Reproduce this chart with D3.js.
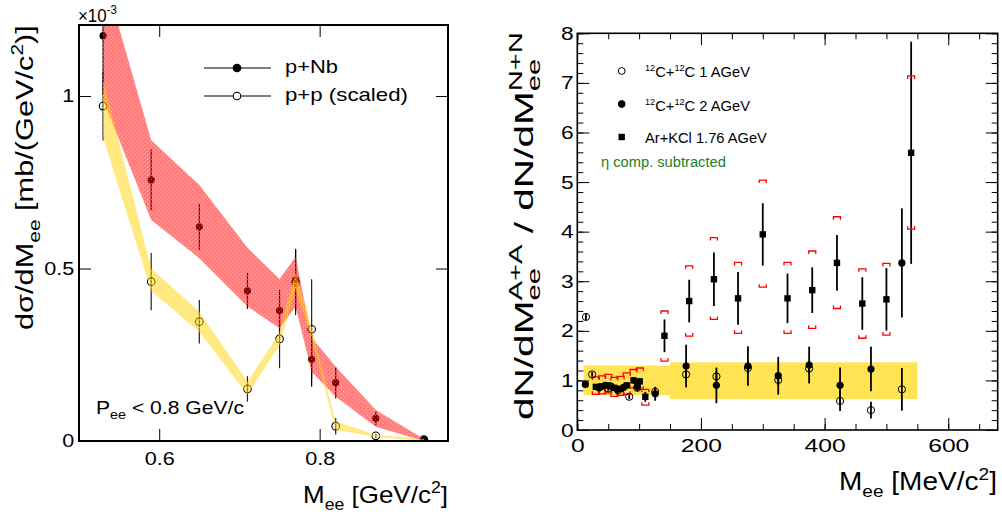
<!DOCTYPE html>
<html>
<head>
<meta charset="utf-8">
<script src="https://cdn.jsdelivr.net/npm/d3@7"></script>
<style>
body { margin: 0; background: #fff; }
svg { display: block; font-family: "Liberation Sans", Arial, Helvetica, sans-serif; }
</style>
</head>
<body>
<svg id="chart" width="1002" height="518"></svg>
<script>
// ---- left panel: p+Nb vs p+p (scaled), values in 1e-3 mb/(GeV/c2)
var massL   = [0.53, 0.59, 0.65, 0.71, 0.75, 0.77, 0.79, 0.82, 0.87, 0.93];
var pNb     = [1.175, 0.757, 0.621, 0.435, 0.378, 0.467, 0.237, 0.169, 0.066, 0.004];
var pNbErr  = [0.17, 0.088, 0.067, 0.052, 0.06, 0.09, 0.08, 0.045, 0.02, 0.005];
var pp      = [0.971, 0.462, 0.346, 0.151, 0.296, 0.46, 0.324, 0.043, 0.015, 0.004];
var ppErr   = [0.1, 0.083, 0.063, 0.037, 0.085, 0.095, 0.145, 0.024, 0.006, 0.004];
// model bands
var pNbBandHi = [1.36, 0.872, 0.742, 0.56, 0.47, 0.534, 0.30, 0.215, 0.09, 0.006];
var pNbBandLo = [0.99, 0.641, 0.53, 0.39, 0.327, 0.39, 0.20, 0.128, 0.041, 0.0];
var ppBandHi  = [1.046, 0.50, 0.375, 0.172, 0.313, 0.49, 0.33, 0.056, 0.018, 0.005];
var ppBandLo  = [0.88, 0.435, 0.317, 0.135, 0.278, 0.44, 0.30, 0.032, 0.012, 0.0];
var leftXTicks = [0.6, 0.8];
var leftYTicks = [0, 0.5, 1];

// ---- right panel: A+A / N+N ratio
var cc1Mass  = [14, 24, 36, 50, 66, 84, 97, 126, 176, 225, 276, 325, 375, 425, 475, 525];
var cc1Ratio = [2.28, 1.12, 0.86, 0.84, 0.8, 0.67, 0.85, 0.77, 1.12, 1.08, 1.25, 1.01, 1.24, 0.585, 0.40, 0.82];
var cc1Err   = [0.06, 0.05, 0.05, 0.05, 0.05, 0.05, 0.06, 0.08, 0.1, 0.1, 0.1, 0.1, 0.1, 0.2, 0.17, 0.43];

var cc2Mass  = [13, 35, 45, 55, 65, 75, 97, 126, 176, 225, 276, 325, 375, 425, 475, 525];
var cc2Ratio = [0.92, 0.85, 0.9, 0.88, 0.82, 0.86, 0.88, 0.73, 1.29, 0.90, 1.29, 1.095, 1.31, 0.90, 1.23, 3.37];
var cc2Err   = [0.05, 0.06, 0.06, 0.06, 0.07, 0.07, 0.09, 0.14, 0.43, 0.36, 0.4, 0.38, 0.37, 0.36, 0.45, 1.1];

var arMass  = [30, 40, 50, 60, 70, 80, 91, 101, 110, 141, 181, 221, 260, 300, 340, 380, 420, 461, 500, 540];
var arRatio = [0.87, 0.88, 0.9, 0.85, 0.83, 0.9, 1.0, 0.98, 0.67, 1.9, 2.6, 3.04, 2.655, 3.945, 2.655, 2.82, 3.37, 2.55, 2.635, 5.59];
var arErr   = [0.05, 0.05, 0.05, 0.05, 0.06, 0.06, 0.07, 0.07, 0.1, 0.33, 0.43, 0.54, 0.53, 0.63, 0.5, 0.46, 0.56, 0.53, 0.63, 2.24];
var arSysHi = [1.07, 1.09, 1.12, 1.06, 1.08, 1.15, 1.22, 1.25, 0.82, 2.40, 3.31, 3.88, 3.38, 5.04, 3.38, 3.61, 4.30, 3.25, 3.36, 7.14];
var arSysLo = [0.72, 0.73, 0.75, 0.68, 0.70, 0.72, 0.85, 0.82, 0.50, 1.39, 1.895, 2.23, 1.95, 2.88, 1.95, 2.05, 2.45, 1.85, 1.915, 4.05];

// reference (N+N) uncertainty boxes
var refBandStart = [10, 150];
var refBandEnd   = [150, 550];
var refBandLo    = [0.705, 0.625];
var refBandHi    = [1.30, 1.365];

var rightXTicks = [0, 200, 400, 600];
var rightYTicks = [0, 1, 2, 3, 4, 5, 6, 7, 8];

var svg = d3.select("#chart");
var defs = svg.append("defs");

function makePattern(id, color, op) {
    var p = defs.append("pattern").attr("id", id).attr("width", 4).attr("height", 4)
        .attr("patternUnits", "userSpaceOnUse");
    p.append("rect").attr("width", 4).attr("height", 4).attr("fill", color).attr("fill-opacity", op);
    p.append("rect").attr("x", 1).attr("y", 1).attr("width", 1).attr("height", 1).attr("fill", "#fff").attr("fill-opacity", 0.35);
    p.append("rect").attr("x", 3).attr("y", 3).attr("width", 1).attr("height", 1).attr("fill", "#fff").attr("fill-opacity", 0.35);
}
makePattern("redFill", "#ff0000", 0.5);
makePattern("yelFill", "#ffd200", 0.5);
makePattern("yelFillR", "#ffd400", 0.68);

// text with sub/superscripts, stretched horizontally to the measured width
function addLabel(parent, parts, o) {
    var t = parent.append("text").attr("font-size", o.size).attr("fill", o.color || "#000");
    var shift = 0, prev = null;
    parts.forEach(function(p) {
        var kind = p[1];
        var target = (kind == "sub") ? o.size * 0.28 : (kind == "sup" || kind == "supback") ? -o.size * 0.42 : 0;
        var ts = t.append("tspan").text(p[0]).attr("dy", target - shift);
        if (kind) ts.attr("font-size", o.size * (o.small || 0.68));
        if (kind == "supback" && prev) ts.attr("dx", -prev.node().getComputedTextLength());
        shift = target;
        prev = ts;
    });
    var w = t.node().getBBox().width;
    var s = o.width / w;
    if (o.rotate) {
        t.attr("transform", "translate(" + o.x + "," + (o.top + o.width) + ") rotate(-90) scale(" + s + ",1)");
    } else {
        t.attr("transform", "translate(" + o.x + "," + o.y + ") scale(" + s + ",1)");
    }
    return t;
}

var plain = function(d) { return String(d); };

// ================= LEFT PANEL =================
var xL = d3.scaleLinear().domain([0.5, 0.96]).range([79, 448]);
var yL = d3.scaleLinear().domain([0, 1.206]).range([441, 25]);

defs.append("clipPath").attr("id", "clipL").append("rect")
    .attr("x", 79).attr("y", 25).attr("width", 369).attr("height", 416);

var gL = svg.append("g").attr("clip-path", "url(#clipL)");

var leftRows = massL.map(function(m, i) {
    return {m: m, nb: pNb[i], nbE: pNbErr[i], pp: pp[i], ppE: ppErr[i],
            nbHi: pNbBandHi[i], nbLo: pNbBandLo[i], ppHi: ppBandHi[i], ppLo: ppBandLo[i]};
});

// points first, bands drawn over them (semi transparent like the original)
gL.selectAll(".ppErr").data(leftRows).enter().append("line")
    .attr("x1", function(d) { return xL(d.m); }).attr("x2", function(d) { return xL(d.m); })
    .attr("y1", function(d) { return yL(d.pp - d.ppE); }).attr("y2", function(d) { return yL(d.pp + d.ppE); })
    .attr("stroke", "#222").attr("stroke-width", 1.2);
gL.selectAll(".nbErr").data(leftRows).enter().append("line")
    .attr("x1", function(d) { return xL(d.m); }).attr("x2", function(d) { return xL(d.m); })
    .attr("y1", function(d) { return yL(d.nb - d.nbE); }).attr("y2", function(d) { return yL(d.nb + d.nbE); })
    .attr("stroke", "#000").attr("stroke-width", 1.2);
gL.selectAll(".nbPt").data(leftRows).enter().append("circle")
    .attr("cx", function(d) { return xL(d.m); }).attr("cy", function(d) { return yL(d.nb); })
    .attr("r", 3.6).attr("fill", "#000");
gL.selectAll(".ppPt").data(leftRows).enter().append("circle")
    .attr("cx", function(d) { return xL(d.m); }).attr("cy", function(d) { return yL(d.pp); })
    .attr("r", 3.8).attr("fill", "none").attr("stroke", "#000").attr("stroke-width", 1.1);

var nbArea = d3.area().x(function(d) { return xL(d.m); })
    .y0(function(d) { return yL(d.nbLo); }).y1(function(d) { return yL(d.nbHi); });
var ppArea = d3.area().x(function(d) { return xL(d.m); })
    .y0(function(d) { return yL(d.ppLo); }).y1(function(d) { return yL(d.ppHi); });
gL.append("path").datum(leftRows).attr("d", nbArea).attr("fill", "url(#redFill)");
gL.append("path").datum(leftRows).attr("d", ppArea).attr("fill", "url(#yelFill)");

// axes
function styleAxis(g, size, sx) {
    g.select(".domain").remove();
    g.selectAll("line").attr("stroke", "#000");
    g.attr("font-size", size).attr("font-family", null);
    g.selectAll("text").attr("fill", "#000").attr("transform", "scale(" + sx + ",1)");
}
var axL = [
    svg.append("g").attr("transform", "translate(0,441)")
        .call(d3.axisBottom(xL).tickValues(leftXTicks).tickFormat(plain).tickSizeInner(-12).tickSizeOuter(0).tickPadding(11)),
    svg.append("g").attr("transform", "translate(0,25)")
        .call(d3.axisTop(xL).tickValues(leftXTicks).tickSizeInner(-12).tickSizeOuter(0).tickFormat("")),
    svg.append("g").attr("transform", "translate(79,0)")
        .call(d3.axisLeft(yL).tickValues(leftYTicks).tickFormat(plain).tickSizeInner(-12).tickSizeOuter(0).tickPadding(4)),
    svg.append("g").attr("transform", "translate(448,0)")
        .call(d3.axisRight(yL).tickValues(leftYTicks).tickSizeInner(-12).tickSizeOuter(0).tickFormat(""))
];
axL.forEach(function(g) { styleAxis(g, 18, 1.2); });

svg.append("rect").attr("x", 79).attr("y", 25).attr("width", 369).attr("height", 416)
    .attr("fill", "none").attr("stroke", "#000").attr("stroke-width", 2);

addLabel(svg, [["\u00d710", ""], ["-3", "sup"]], {size: 18, x: 78, y: 22, width: 39});
addLabel(svg, [["d\u03c3/dM", ""], ["ee", "sub"], [" [mb/(GeV/c", ""], ["2", "sup"], [")]", ""]],
    {size: 24, x: 33, top: 25, width: 305, rotate: true});
addLabel(svg, [["M", ""], ["ee", "sub"], [" [GeV/c", ""], ["2", "sup"], ["]", ""]],
    {size: 24, x: 303, y: 503, width: 145});
addLabel(svg, [["P", ""], ["ee", "sub"], [" < 0.8 GeV/c", ""]], {size: 19, x: 96, y: 414, width: 148});

// legend
var legL = [{name: "p+Nb", filled: true, y: 68}, {name: "p+p (scaled)", filled: false, y: 96}];
legL.forEach(function(d) {
    svg.append("line").attr("x1", 204).attr("x2", 271).attr("y1", d.y).attr("y2", d.y)
        .attr("stroke", "#000").attr("stroke-width", 1);
    svg.append("circle").attr("cx", 237).attr("cy", d.y).attr("r", 3.8)
        .attr("fill", d.filled ? "#000" : "#fff").attr("stroke", "#000").attr("stroke-width", 1.1);
});
addLabel(svg, [["p+Nb", ""]], {size: 18, x: 285, y: 73, width: 53});
addLabel(svg, [["p+p (scaled)", ""]], {size: 18, x: 285, y: 101, width: 123});

// ================= RIGHT PANEL =================
var xR = d3.scaleLinear().domain([0, 680]).range([577.3, 997.7]);
var yR = d3.scaleLinear().domain([0, 8]).range([430, 33.3]);
var gR = svg.append("g");

refBandStart.forEach(function(s, i) {
    gR.append("rect").attr("x", xR(s)).attr("y", yR(refBandHi[i]))
        .attr("width", xR(refBandEnd[i]) - xR(s)).attr("height", yR(refBandLo[i]) - yR(refBandHi[i]))
        .attr("fill", "url(#yelFillR)");
});

function errBars(g, xs, ys, es, w) {
    g.selectAll(null).data(xs).enter().append("line")
        .attr("x1", function(d) { return xR(d); }).attr("x2", function(d) { return xR(d); })
        .attr("y1", function(d, i) { return yR(ys[i] - es[i]); })
        .attr("y2", function(d, i) { return yR(ys[i] + es[i]); })
        .attr("stroke", "#000").attr("stroke-width", w);
}
errBars(gR, cc1Mass, cc1Ratio, cc1Err, 1.8);
errBars(gR, cc2Mass, cc2Ratio, cc2Err, 1.8);
errBars(gR, arMass, arRatio, arErr, 1.8);

// systematic brackets for Ar+KCl
gR.selectAll(".sysHi").data(arMass).enter().append("path")
    .attr("d", function(d, i) {
        var x = xR(d), y = yR(arSysHi[i]);
        return "M" + (x - 3.5) + "," + (y + 3) + "V" + y + "H" + (x + 3.5) + "V" + (y + 3);
    })
    .attr("fill", "none").attr("stroke", "#ff0000").attr("stroke-width", 1.3);
gR.selectAll(".sysLo").data(arMass).enter().append("path")
    .attr("d", function(d, i) {
        var x = xR(d), y = yR(arSysLo[i]);
        return "M" + (x - 3.5) + "," + (y - 3) + "V" + y + "H" + (x + 3.5) + "V" + (y - 3);
    })
    .attr("fill", "none").attr("stroke", "#ff0000").attr("stroke-width", 1.3);

gR.selectAll(".arPt").data(arMass).enter().append("rect")
    .attr("x", function(d) { return xR(d) - 3.2; })
    .attr("y", function(d, i) { return yR(arRatio[i]) - 3.2; })
    .attr("width", 6.4).attr("height", 6.4).attr("fill", "#000");
gR.selectAll(".cc2Pt").data(cc2Mass).enter().append("circle")
    .attr("cx", function(d) { return xR(d); })
    .attr("cy", function(d, i) { return yR(cc2Ratio[i]); })
    .attr("r", 3.6).attr("fill", "#000");
gR.selectAll(".cc1Pt").data(cc1Mass).enter().append("circle")
    .attr("cx", function(d) { return xR(d); })
    .attr("cy", function(d, i) { return yR(cc1Ratio[i]); })
    .attr("r", 3.6).attr("fill", "none").attr("stroke", "#000").attr("stroke-width", 1);

var axR = [
    svg.append("g").attr("transform", "translate(0,430)")
        .call(d3.axisBottom(xR).tickValues(d3.range(0, 681, 50)).tickSizeInner(-6).tickSizeOuter(0).tickFormat("")),
    svg.append("g").attr("transform", "translate(0,430)")
        .call(d3.axisBottom(xR).tickValues(rightXTicks).tickFormat(plain).tickSizeInner(-12).tickSizeOuter(0).tickPadding(9)),
    svg.append("g").attr("transform", "translate(0,33.3)")
        .call(d3.axisTop(xR).tickValues(d3.range(0, 681, 50)).tickSizeInner(-6).tickSizeOuter(0).tickFormat("")),
    svg.append("g").attr("transform", "translate(0,33.3)")
        .call(d3.axisTop(xR).tickValues(rightXTicks).tickSizeInner(-12).tickSizeOuter(0).tickFormat("")),
    svg.append("g").attr("transform", "translate(577.3,0)")
        .call(d3.axisLeft(yR).tickValues(d3.range(0, 8.01, 0.2)).tickSizeInner(-6).tickSizeOuter(0).tickFormat("")),
    svg.append("g").attr("transform", "translate(577.3,0)")
        .call(d3.axisLeft(yR).tickValues(rightYTicks).tickFormat(plain).tickSizeInner(-12).tickSizeOuter(0).tickPadding(3)),
    svg.append("g").attr("transform", "translate(997.7,0)")
        .call(d3.axisRight(yR).tickValues(d3.range(0, 8.01, 0.2)).tickSizeInner(-6).tickSizeOuter(0).tickFormat("")),
    svg.append("g").attr("transform", "translate(997.7,0)")
        .call(d3.axisRight(yR).tickValues(rightYTicks).tickSizeInner(-12).tickSizeOuter(0).tickFormat(""))
];
axR.forEach(function(g) { styleAxis(g, 19, 1.2); });
axR[1].selectAll("text").attr("transform", "scale(1.3,1)");

svg.append("rect").attr("x", 577.3).attr("y", 33.3).attr("width", 420.4).attr("height", 396.7)
    .attr("fill", "none").attr("stroke", "#000").attr("stroke-width", 1.6);

addLabel(svg, [["M", ""], ["ee", "sub"], [" [MeV/c", ""], ["2", "sup"], ["]", ""]],
    {size: 25, x: 839, y: 490, width: 158});
addLabel(svg, [["dN/dM", ""], ["ee", "sub"], ["A+A", "supback"], [" / dN/dM", ""], ["ee", "sub"], ["N+N", "supback"]],
    {size: 26, x: 533, top: 32, width: 388, rotate: true, small: 0.72});

// legend (markers only)
var legR = [
    {parts: [["12", "sup"], ["C+", ""], ["12", "sup"], ["C 1 AGeV", ""]], shape: "open", y: 71, base: 77, w: 105},
    {parts: [["12", "sup"], ["C+", ""], ["12", "sup"], ["C 2 AGeV", ""]], shape: "filled", y: 104, base: 111, w: 105},
    {parts: [["Ar+KCl 1.76 AGeV", ""]], shape: "square", y: 137, base: 143, w: 122}
];
legR.forEach(function(d) {
    if (d.shape == "square") {
        svg.append("rect").attr("x", 621.7 - 3.2).attr("y", d.y - 3.2).attr("width", 6.4).attr("height", 6.4).attr("fill", "#000");
    } else {
        svg.append("circle").attr("cx", 621.7).attr("cy", d.y).attr("r", 3.4)
            .attr("fill", d.shape == "filled" ? "#000" : "none").attr("stroke", "#000").attr("stroke-width", 1);
    }
    addLabel(svg, d.parts, {size: 15, x: 645, y: d.base, width: d.w, small: 0.62});
});
addLabel(svg, [["\u03b7 comp. subtracted", ""]], {size: 15, x: 601, y: 167, width: 125, color: "#1e7d1e"});
</script>
</body>
</html>
